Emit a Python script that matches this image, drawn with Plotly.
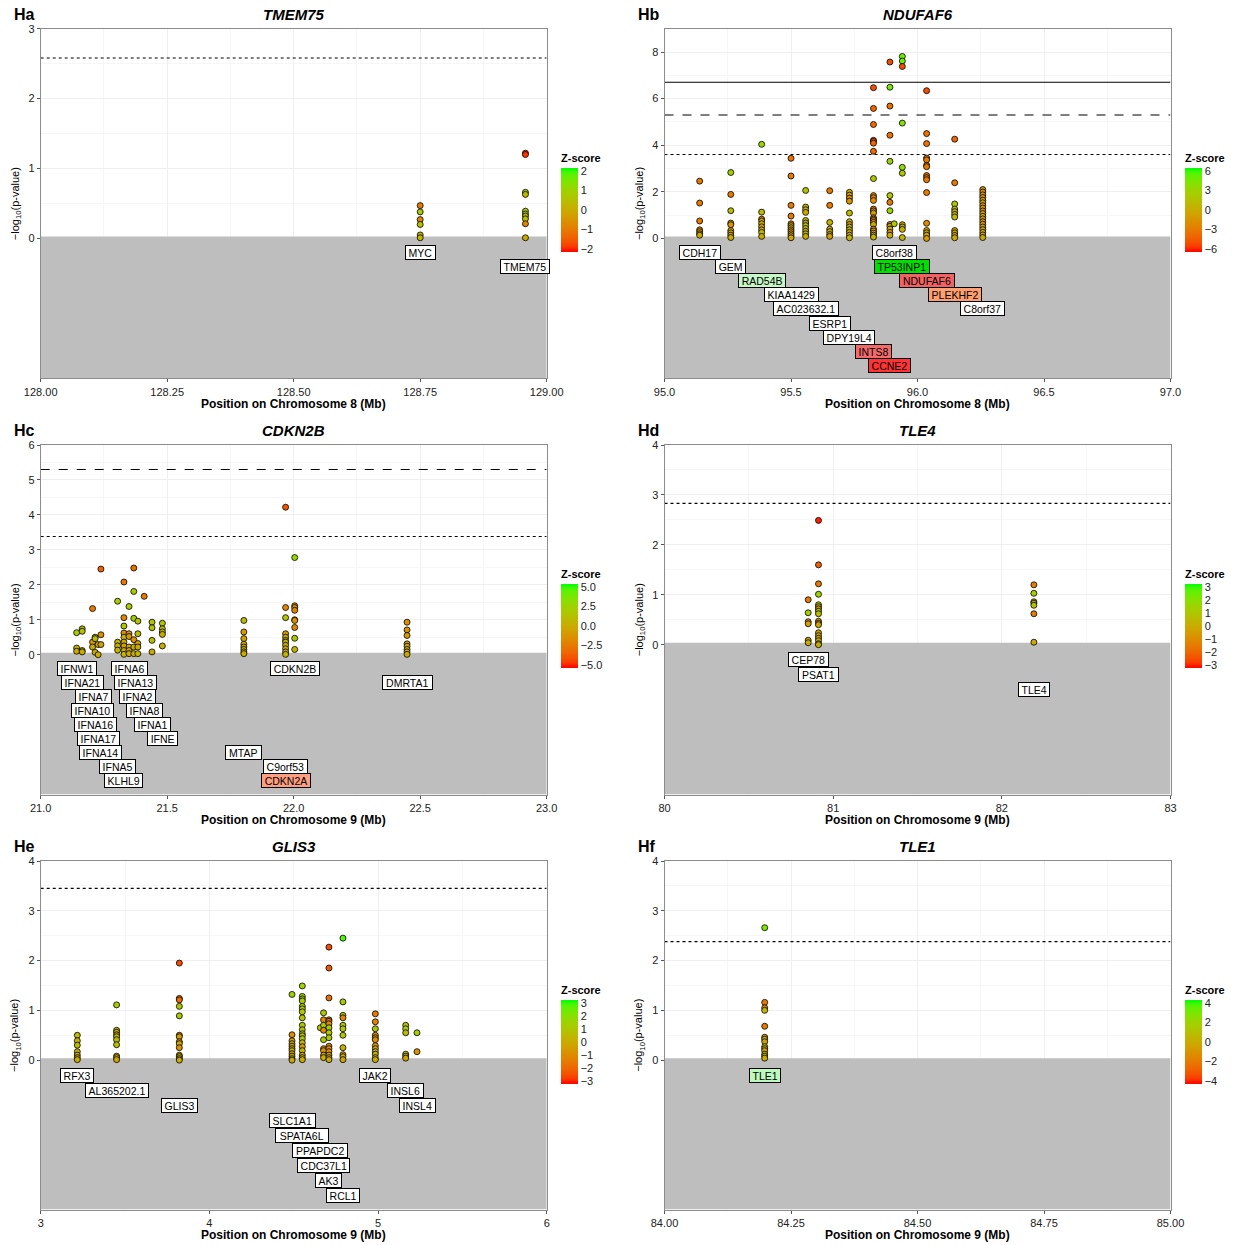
import plotly.graph_objects as go

W, H = 1238, 1245

# ------------------------------------------------------------------ data
# ---- Ha  TMEM75 (chr 8)
ha_col_x = [128.75, 128.958]
ha_col_y = [[0.47, 0.38, 0.27, 0.20, 0.05, 0.01],
            [1.22, 1.20, 0.66, 0.63, 0.39, 0.35, 0.32, 0.28, 0.21, 0.01]]
ha_col_z = [[-1.0, 0.8, -0.8, 0.5, 0.1, 0.2],
            [-2.0, -1.9, 0.8, 0.3, 0.8, 0.6, 0.4, 0.5, -0.8, 0.0]]
ha_genes = ["MYC", "TMEM75"]
ha_gene_x = [128.75, 128.958]
ha_gene_row = [0, 1]
ha_gene_fill = ["white", "white"]
ha_thr = [2.58]

# ---- Hb  NDUFAF6 (chr 8)
hb_col_x = [95.139, 95.262, 95.384, 95.50, 95.558, 95.653, 95.731, 95.826,
            95.891, 95.908, 95.940, 96.036, 96.147, 96.258]
hb_col_y = [
    [2.46, 1.52, 0.75, 0.37, 0.29, 0.20, 0.14],
    [2.83, 1.89, 1.19, 0.66, 0.59, 0.34, 0.24, 0.14, 0.04],
    [4.04, 1.13, 0.83, 0.75, 0.63, 0.50, 0.37, 0.26, 0.09],
    [3.44, 2.68, 1.42, 0.96, 0.63, 0.55, 0.46, 0.37, 0.29, 0.20, 0.12, 0.03],
    [2.06, 1.35, 1.23, 1.12, 0.77, 0.66, 0.55, 0.43, 0.31, 0.20, 0.09],
    [2.05, 1.42, 0.69, 0.40, 0.29, 0.17, 0.09],
    [1.98, 1.86, 1.73, 1.60, 1.09, 0.72, 0.60, 0.49, 0.37, 0.26, 0.14, 0.03],
    [6.47, 5.58, 4.89, 4.21, 4.16, 4.09, 3.74, 2.57, 1.84, 1.75, 1.63, 1.26,
     1.18, 1.09, 0.89, 0.83, 0.77, 0.69, 0.60, 0.40, 0.32, 0.23, 0.14, 0.06],
    [7.57, 6.49, 5.68, 4.43, 3.31, 1.84, 1.55, 1.19, 0.60, 0.52, 0.40, 0.26, 0.14],
    [0.63],
    [7.81, 7.61, 7.38, 4.95, 3.05, 2.80, 0.59, 0.49, 0.39, 0.04],
    [6.34, 4.50, 4.07, 3.45, 3.37, 3.14, 3.08, 2.70, 2.61, 2.52, 1.97, 0.65,
     0.34, 0.24, 0.14, 0.00],
    [4.26, 2.39, 1.48, 1.26, 1.15, 1.03, 0.92, 0.34, 0.24, 0.13, 0.03],
    [2.10, 1.99, 1.87, 1.76, 1.64, 1.53, 1.41, 1.30, 1.18, 1.07, 0.95, 0.84,
     0.72, 0.61, 0.49, 0.38, 0.26, 0.15, 0.04],
]
hb_col_z = [
    [-3, -3, -3, -2, -1.5, -1, 0],
    [2.5, -3, 1.5, 0.5, -1.5, -1, 0, -0.5, 0],
    [3, 1, -2, -1, 0.5, -1, 0, 1, 0],
    [-3.5, -3, -3, -3, -2, -1, 0, -1, -2, 0, -1, -0.5],
    [1.5, 0.5, 1, -0.5, 1, 0, 1.5, 0.5, 0, 1, 0],
    [-3, -3, 0.5, -0.5, 0, 1, -1],
    [0.5, -1, -2, -1.5, 1, 0.5, -1, 0, 1, -0.5, 0, 0.5],
    [-5, -4, -4, -4, -4.5, -4, -4, 2, -2, -2.5, -2, -3, -2, -1, -2, -1, -3,
     -1.5, 0, -2, 0, -1, 0, 0.5],
    [-5, 4.5, -3.5, -3.5, 3, 2, -3, 3, -2, -1, 0, -1.5, 0],
    [2],
    [5, 5, -5, 4, 3.5, 2, -0.5, 1, 0, 0.5],
    [-5, -3.5, -3.5, -3.5, -3, -3.5, -3, -3, -3.5, -3, -3, -2, -1, 0, -0.5, -1],
    [-4, -3, 2, 1, 0, 0.5, 1, -1, 0, -0.5, 0],
    [-2, -2, -1, -2, -1, 0, -2, -1, -2, -1, 0, -1, -2, -1, 0, -1, 0, -1, 0],
]
hb_genes = ["CDH17", "GEM", "RAD54B", "KIAA1429", "AC023632.1", "ESRP1",
            "DPY19L4", "INTS8", "CCNE2", "C8orf38", "TP53INP1", "NDUFAF6",
            "PLEKHF2", "C8orf37"]
hb_gene_x = [95.139, 95.262, 95.384, 95.50, 95.558, 95.653, 95.731, 95.826,
             95.891, 95.908, 95.937, 96.036, 96.147, 96.258]
hb_gene_row = [0, 1, 2, 3, 4, 5, 6, 7, 8, 0, 1, 2, 3, 4]
hb_gene_fill = ["white", "white", "#C6F7C6", "white", "white", "white",
                "white", "#F46A6A", "#FF3333", "white", "#00E000", "#F26262",
                "#FF9E70", "white"]
hb_thr = [6.7, 5.3, 3.6]

# ---- Hc  CDKN2B (chr 9)
hc_col_x = [21.142, 21.164, 21.205, 21.215, 21.227, 21.238, 21.304, 21.329,
            21.349, 21.368, 21.384, 21.409, 21.44, 21.481, 21.803, 21.968,
            22.004, 22.448]
hc_col_y = [
    [0.63, 0.19, 0.10],
    [0.74, 0.67, 0.12, 0.08],
    [1.32, 0.36, 0.22],
    [0.50, 0.46, 0.07],
    [0.29, 0.00],
    [2.45, 0.57, 0.29],
    [1.53, 0.36, 0.25, 0.13],
    [2.08, 1.06, 0.82, 0.62, 0.50, 0.36, 0.25, 0.12, 0.01],
    [1.38, 0.60, 0.52, 0.22, 0.12, 0.03],
    [2.48, 1.81, 1.04, 0.43, 0.22, 0.03],
    [0.96, 0.60, 0.32, 0.22, 0.03],
    [1.67],
    [0.93, 0.77, 0.41, 0.08],
    [0.90, 0.74, 0.65, 0.58, 0.25],
    [0.98, 0.65, 0.46, 0.30, 0.22, 0.15, 0.08, 0.03],
    [4.22, 1.35, 1.06, 0.60, 0.50, 0.41, 0.36, 0.27, 0.17, 0.08, 0.01],
    [2.78, 1.40, 1.35, 1.27, 1.00, 0.98, 0.78, 0.47, 0.15],
    [0.93, 0.71, 0.55, 0.31, 0.24, 0.15, 0.08, 0.01],
]
hc_col_z = [
    [2, 0.5, 0],
    [1.5, 1, 0.5, 0],
    [-2.5, -1, 0],
    [1.5, 1, 0],
    [-0.5, 0],
    [-3.5, -1.5, -0.5],
    [2, 0.5, 0, 0.5],
    [-2.5, -2, 1.5, -1.5, 0.5, 0, -0.5, 0, 0.5],
    [2, -1.5, -1, 0, -0.5, 0],
    [-3, 2, 2, -1.5, 0, 0],
    [1.5, 1, -0.5, 0, 0.5],
    [-2.5],
    [1.5, 1.5, 1, 0],
    [1.5, 1, 0.5, 0, 0],
    [1, -1, -0.5, 0, -0.5, 0, 0.5, 0],
    [-4, -2, 1.5, -1, 0, -0.5, 0.5, 0, -0.5, 0, 0.5],
    [3, -2, -1.5, -2, -2, -1.5, -2, 1.5, 0.5],
    [-1.5, -1.5, -1, -1, 0, -0.5, 0, 0],
]
hc_genes = ["IFNW1", "IFNA21", "IFNA7", "IFNA10", "IFNA16", "IFNA17",
            "IFNA14", "IFNA5", "KLHL9", "IFNA6", "IFNA13", "IFNA2", "IFNA8",
            "IFNA1", "IFNE", "MTAP", "CDKN2B", "C9orf53", "CDKN2A", "DMRTA1"]
hc_gene_x = [21.142, 21.164, 21.208, 21.205, 21.215, 21.227, 21.238, 21.304,
             21.329, 21.349, 21.374, 21.384, 21.409, 21.44, 21.481, 21.803,
             22.004, 21.968, 21.968, 22.448]
hc_gene_row = [0, 1, 2, 3, 4, 5, 6, 7, 8, 0, 1, 2, 3, 4, 5, 6, 0, 7, 8, 1]
hc_gene_fill = ["white"] * 18 + ["#FF9F80", "white"]
hc_thr = [5.3, 3.38]

# ---- Hd  TLE4 (chr 9)
hd_col_x = [80.852, 80.913, 82.19]
hd_col_y = [
    [0.90, 0.64, 0.46, 0.42, 0.09, 0.04],
    [2.49, 1.60, 1.22, 1.01, 0.80, 0.76, 0.72, 0.67, 0.62, 0.47, 0.43, 0.40,
     0.24, 0.18, 0.13, 0.08, 0.02, 0.00],
    [1.20, 1.03, 0.86, 0.83, 0.79, 0.62, 0.05],
]
hd_col_z = [
    [-1.5, 1.2, -0.8, -0.5, -0.3, 0],
    [-3, -2.2, -1.5, 1.5, 1, 0.5, -1, 1, 0.5, -0.8, -0.5, -0.3, -0.5, 0,
     -0.3, 0, 0.2, 0],
    [-1.5, 1.2, -0.5, 0.5, 1, -1.5, 0],
]
hd_genes = ["CEP78", "PSAT1", "TLE4"]
hd_gene_x = [80.852, 80.913, 82.19]
hd_gene_row = [0, 1, 2]
hd_gene_fill = ["white", "white", "white"]
hd_thr = [2.83]

# ---- He  GLIS3 (chr 9)
he_col_x = [3.217, 3.45, 3.822, 4.49, 4.551, 4.658, 4.677, 4.709, 4.792,
            4.984, 5.164, 5.231]
he_col_y = [
    [0.50, 0.39, 0.30, 0.17, 0.10, 0.05, 0.01],
    [1.11, 0.60, 0.56, 0.51, 0.47, 0.41, 0.31, 0.08, 0.05, 0.01],
    [1.95, 1.24, 1.21, 1.08, 0.89, 0.50, 0.47, 0.37, 0.33, 0.25, 0.10, 0.07,
     0.03, 0.00],
    [1.32, 0.51, 0.39, 0.33, 0.28, 0.23, 0.19, 0.13, 0.08, 0.03, 0.00],
    [1.49, 1.28, 1.23, 1.19, 1.08, 1.03, 0.97, 0.85, 0.70, 0.61, 0.53, 0.49,
     0.43, 0.35, 0.27, 0.19, 0.10, 0.05, 0.01],
    [0.65],
    [0.95, 0.81, 0.70, 0.60, 0.41, 0.23, 0.19, 0.10, 0.05],
    [2.27, 1.85, 1.25, 0.81, 0.78, 0.73, 0.65, 0.55, 0.45, 0.28, 0.23, 0.17,
     0.10, 0.05, 0.01],
    [2.45, 1.17, 0.90, 0.85, 0.70, 0.63, 0.50, 0.25, 0.11, 0.07, 0.01],
    [0.93, 0.77, 0.63, 0.50, 0.45, 0.41, 0.29, 0.23, 0.17, 0.12, 0.05, 0.01],
    [0.70, 0.63, 0.55, 0.12, 0.08, 0.04],
    [0.55, 0.17],
]
he_col_z = [
    [0.5, 0.3, 0.5, 0, 0.2, -0.2, 0],
    [1.2, 0.5, 0.3, -0.8, 0.5, 0.5, 0.6, 0, 0.3, -0.2],
    [-2.5, -1.5, -1.8, 1, 1, -1, -0.5, -1, 0, -0.8, 0, 0.2, -0.3, 0],
    [1.5, -1, -0.5, 0, -0.3, 0, 0.2, -0.5, 0, 0.3, -0.2],
    [1.5, 1.3, 1.5, 1.2, 1, 1.2, 1, 0.8, 1, 0.8, 1, 0.5, 1, 0.5, -0.5, 0.5,
     -0.3, 0.2, 0],
    [1.2],
    [1, -1.2, 1, -1, 1, -1, -0.8, -0.5, 0],
    [-2.5, -2.3, -1.8, -1.2, -1.5, -1, 1.2, 1, 1, -1, -0.8, -1, 0, -0.3, 0],
    [2.8, 1.2, 1, -1.2, 1, 1, 1, 0.3, -0.5, 0, -0.2],
    [-1.5, -1.2, 1, -1, -0.8, -1, -0.5, -0.3, 0.5, 0.3, 0, 0],
    [0.8, 1, 0.5, 0.3, 0, -0.2],
    [1.2, -0.8],
]
he_genes = ["RFX3", "AL365202.1", "GLIS3", "SLC1A1", "SPATA6L", "PPAPDC2",
            "CDC37L1", "AK3", "RCL1", "JAK2", "INSL6", "INSL4"]
he_gene_x = [3.217, 3.45, 3.822, 4.49, 4.549, 4.658, 4.677, 4.709, 4.792,
             4.984, 5.164, 5.231]
he_gene_row = [0, 1, 2, 3, 4, 5, 6, 7, 8, 0, 1, 2]
he_gene_fill = ["white"] * 12
he_thr = [3.45]

# ---- Hf  TLE1 (chr 9)
hf_col_x = [84.198]
hf_col_y = [[2.66, 1.16, 1.05, 1.00, 0.68, 0.46, 0.42, 0.37, 0.27, 0.23,
             0.19, 0.12, 0.08, 0.04]]
hf_col_z = [[3, -2, -1.5, 0.5, -2, -1, 0.5, -0.5, 0.5, 0, -0.5, 0, 0.5, 0]]
hf_genes = ["TLE1"]
hf_gene_x = [84.198]
hf_gene_row = [0]
hf_gene_fill = ["#BDF9BD"]
hf_thr = [2.38]

# ------------------------------------------------------------ colours
def _lin(c):
    c = c / 255.0
    return c / 12.92 if c <= 0.04045 else ((c + 0.055) / 1.055) ** 2.4


def _gam(c):
    c = max(0.0, min(1.0, c))
    v = 12.92 * c if c <= 0.0031308 else 1.055 * c ** (1 / 2.4) - 0.055
    return int(round(max(0.0, min(1.0, v)) * 255))


def rgb2lab(r, g, b):
    R, G, B = _lin(r), _lin(g), _lin(b)
    X = (0.4124 * R + 0.3576 * G + 0.1805 * B) / 0.95047
    Y = 0.2126 * R + 0.7152 * G + 0.0722 * B
    Z = (0.0193 * R + 0.1192 * G + 0.9505 * B) / 1.08883
    f = lambda t: t ** (1 / 3) if t > 0.008856 else 7.787 * t + 16 / 116
    fx, fy, fz = f(X), f(Y), f(Z)
    return 116 * fy - 16, 500 * (fx - fy), 200 * (fy - fz)


def lab2rgb(L, a, b):
    fy = (L + 16) / 116
    fx = fy + a / 500
    fz = fy - b / 200
    finv = lambda t: t ** 3 if t ** 3 > 0.008856 else (t - 16 / 116) / 7.787
    X = finv(fx) * 0.95047
    Y = finv(fy)
    Z = finv(fz) * 1.08883
    R = 3.2406 * X - 1.5372 * Y - 0.4986 * Z
    G = -0.9689 * X + 1.8758 * Y + 0.0415 * Z
    B = 0.0557 * X - 0.2040 * Y + 1.0570 * Z
    return "rgb(%d,%d,%d)" % (_gam(R), _gam(G), _gam(B))


lo = rgb2lab(255, 0, 0)
hi = rgb2lab(0, 255, 0)
NST = 16
colorscale = []
for i in range(NST + 1):
    t = i / NST
    colorscale.append([t, lab2rgb(*[lo[k] + (hi[k] - lo[k]) * t for k in range(3)])])

# approximate Arial/Liberation Sans advance widths (per em) for label boxes
_CW = {c: 0.667 for c in "ABEKPSVXY"}
_CW.update({c: 0.722 for c in "CDHNRU"})
_CW.update({c: 0.778 for c in "GOQ"})
_CW.update({"F": 0.611, "T": 0.611, "Z": 0.611, "I": 0.278, "J": 0.5,
            "L": 0.556, "M": 0.833, "W": 0.944, ".": 0.278,
            "f": 0.278, "r": 0.333, "o": 0.556})
_CW.update({d: 0.556 for d in "0123456789"})


def text_w(s, fs):
    return sum(_CW.get(ch, 0.6) for ch in s) * fs


# ------------------------------------------------------------ layout geometry
FONT = "Liberation Sans, Arial, Helvetica, sans-serif"
LFS = 10.5
col_px = [(40.7, 546.7), (664.5, 1170.5)]
row_px = [(28.7, 378.3), (445.0, 794.5), (861.0, 1209.5)]
cbar_x_px = [561, 1185]
cbar_bottom_px = [252, 668, 1084]

panels = [
    dict(tag="Ha", gene="TMEM75", chrom=8, r=0, c=0, xr=[128, 129], yr=[-2, 3],
         yt=[0, 1, 2, 3], ymt=[0.5, 1.5, 2.5],
         xt=[128, 128.25, 128.5, 128.75, 129],
         xmt=[128.125, 128.375, 128.625, 128.875], xfmt=".2f",
         cm=2, zt=[-2, -1, 0, 1, 2], zfmt="d",
         cx=ha_col_x, cy=ha_col_y, cz=ha_col_z,
         g=ha_genes, gx=ha_gene_x, grow=ha_gene_row, gfill=ha_gene_fill,
         thr=ha_thr, dash=["dot"], lab_px=14),
    dict(tag="Hb", gene="NDUFAF6", chrom=8, r=0, c=1, xr=[95, 97], yr=[-6, 9],
         yt=[0, 2, 4, 6, 8], ymt=[1, 3, 5, 7],
         xt=[95, 95.5, 96, 96.5, 97], xmt=[95.25, 95.75, 96.25, 96.75],
         xfmt=".1f", cm=6, zt=[-6, -3, 0, 3, 6], zfmt="d",
         cx=hb_col_x, cy=hb_col_y, cz=hb_col_z,
         g=hb_genes, gx=hb_gene_x, grow=hb_gene_row, gfill=hb_gene_fill,
         thr=hb_thr, dash=["solid", "dash", "dot"], lab_px=14.1),
    dict(tag="Hc", gene="CDKN2B", chrom=9, r=1, c=0, xr=[21, 23], yr=[-4, 6],
         yt=[0, 1, 2, 3, 4, 5, 6], ymt=[0.5, 1.5, 2.5, 3.5, 4.5, 5.5],
         xt=[21, 21.5, 22, 22.5, 23], xmt=[21.25, 21.75, 22.25, 22.75],
         xfmt=".1f", cm=5, zt=[-5, -2.5, 0, 2.5, 5], zfmt=".1f",
         cx=hc_col_x, cy=hc_col_y, cz=hc_col_z,
         g=hc_genes, gx=hc_gene_x, grow=hc_gene_row, gfill=hc_gene_fill,
         thr=hc_thr, dash=["dash", "dot"], lab_px=14),
    dict(tag="Hd", gene="TLE4", chrom=9, r=1, c=1, xr=[80, 83], yr=[-3, 4],
         yt=[0, 1, 2, 3, 4], ymt=[0.5, 1.5, 2.5, 3.5],
         xt=[80, 81, 82, 83], xmt=[80.5, 81.5, 82.5], xfmt="d",
         cm=3, zt=[-3, -2, -1, 0, 1, 2, 3], zfmt="d",
         cx=hd_col_x, cy=hd_col_y, cz=hd_col_z,
         g=hd_genes, gx=hd_gene_x, grow=hd_gene_row, gfill=hd_gene_fill,
         thr=hd_thr, dash=["dot"], lab_px=15),
    dict(tag="He", gene="GLIS3", chrom=9, r=2, c=0, xr=[3, 6], yr=[-3, 4],
         yt=[0, 1, 2, 3, 4], ymt=[0.5, 1.5, 2.5, 3.5],
         xt=[3, 4, 5, 6], xmt=[3.5, 4.5, 5.5], xfmt="d",
         cm=3, zt=[-3, -2, -1, 0, 1, 2, 3], zfmt="d",
         cx=he_col_x, cy=he_col_y, cz=he_col_z,
         g=he_genes, gx=he_gene_x, grow=he_gene_row, gfill=he_gene_fill,
         thr=he_thr, dash=["dot"], lab_px=15),
    dict(tag="Hf", gene="TLE1", chrom=9, r=2, c=1, xr=[84, 85], yr=[-3, 4],
         yt=[0, 1, 2, 3, 4], ymt=[0.5, 1.5, 2.5, 3.5],
         xt=[84, 84.25, 84.5, 84.75, 85],
         xmt=[84.125, 84.375, 84.625, 84.875], xfmt=".2f",
         cm=4, zt=[-4, -2, 0, 2, 4], zfmt="d",
         cx=hf_col_x, cy=hf_col_y, cz=hf_col_z,
         g=hf_genes, gx=hf_gene_x, grow=hf_gene_row, gfill=hf_gene_fill,
         thr=hf_thr, dash=["dot"], lab_px=15.7),
]

fig = go.Figure()
shapes, annots = [], []
layout = {}
GRID = "#EEEEF4"
MGRID = "#F6F6FA"

for i, p in enumerate(panels):
    n = i + 1
    xa = "xaxis" if n == 1 else "xaxis%d" % n
    ya = "yaxis" if n == 1 else "yaxis%d" % n
    xref = "x" if n == 1 else "x%d" % n
    yref = "y" if n == 1 else "y%d" % n
    x0p, x1p = col_px[p["c"]]
    y0p, y1p = row_px[p["r"]]
    ppu = (y1p - y0p) / (p["yr"][1] - p["yr"][0])

    def fmt(v, f):
        return ("%d" % round(v)) if f == "d" else format(v, f)

    layout[xa] = dict(
        domain=[x0p / W, x1p / W], range=p["xr"], anchor=yref,
        automargin=False,
        tickmode="array", tickvals=p["xt"],
        ticktext=[fmt(v, p["xfmt"]) for v in p["xt"]],
        ticks="outside", ticklen=3, tickcolor="#555", tickwidth=1,
        tickfont=dict(size=11, color="#222", family=FONT),
        showgrid=True, gridcolor=GRID, gridwidth=1,
        minor=dict(tickvals=p["xmt"], showgrid=True, gridcolor=MGRID, ticks=""),
        showline=True, linecolor="#8C8C8C", linewidth=1, mirror=True,
        zeroline=False, fixedrange=True)
    layout[ya] = dict(
        domain=[1 - y1p / H, 1 - y0p / H], range=p["yr"], anchor=xref,
        automargin=False,
        tickmode="array", tickvals=p["yt"],
        ticktext=[str(v) for v in p["yt"]],
        ticks="outside", ticklen=3, tickcolor="#555", tickwidth=1,
        tickfont=dict(size=11, color="#222", family=FONT),
        showgrid=True, gridcolor=GRID, gridwidth=1,
        minor=dict(tickvals=p["ymt"], showgrid=True, gridcolor=MGRID, ticks=""),
        showline=True, linecolor="#8C8C8C", linewidth=1, mirror=True,
        zeroline=False, fixedrange=True)

    # grey gene band below zero
    shapes.append(dict(type="rect", xref=xref, yref=yref,
                       x0=p["xr"][0], x1=p["xr"][1], y0=p["yr"][0], y1=2 / ppu,
                       fillcolor="#BEBEBE", line=dict(width=0), layer="between"))
    # significance thresholds
    for tv, ds in zip(p["thr"], p["dash"]):
        shapes.append(dict(type="line", xref=xref, yref=yref,
                           x0=p["xr"][0], x1=p["xr"][1], y0=tv, y1=tv,
                           line=dict(color="black", width=1.1, dash=ds),
                           layer="between"))

    # points
    xs, ys, zs = [], [], []
    for cx, cy, cz in zip(p["cx"], p["cy"], p["cz"]):
        for yy, zz in zip(cy, cz):
            xs.append(cx)
            ys.append(yy)
            zs.append(zz)
    cm = p["cm"] * 1.07
    fig.add_trace(go.Scatter(
        x=xs, y=ys, mode="markers", xaxis=xref, yaxis=yref,
        showlegend=False, hoverinfo="skip",
        marker=dict(size=6, color=zs, colorscale=colorscale, cmin=-cm, cmax=cm,
                    line=dict(color="black", width=0.8), showscale=True,
                    colorbar=dict(
                        x=cbar_x_px[p["c"]] / W, xanchor="left", xpad=0,
                        y=1 - cbar_bottom_px[p["r"]] / H, yanchor="bottom",
                        ypad=0, len=101, lenmode="pixels", thickness=17,
                        thicknessmode="pixels", outlinewidth=0,
                        tickmode="array", tickvals=p["zt"],
                        ticktext=[fmt(v, p["zfmt"]).replace("-", "\u2212")
                                  for v in p["zt"]],
                        ticks="", tickfont=dict(size=11, color="#222", family=FONT),
                        title=dict(text="<b>Z-score</b>", side="top",
                                   font=dict(size=11, color="black", family=FONT))))))

    # gene labels in the grey band
    for gname, gx, gr, gf in zip(p["g"], p["gx"], p["grow"], p["gfill"]):
        annots.append(dict(
            xref=xref, yref=yref, x=gx, y=-(gr + 1) * p["lab_px"] / ppu,
            text=gname, showarrow=False, xanchor="center", yanchor="middle",
            width=text_w(gname, LFS) + 3, height=11,
            font=dict(size=LFS, color="black", family=FONT),
            bgcolor=gf, bordercolor="black", borderwidth=1, borderpad=1.2))

    # panel tag and gene title
    annots.append(dict(xref="paper", yref="paper", x=(x0p - 29) / W,
                       y=1 - (y0p - 14.5) / H, text="<b>%s</b>" % p["tag"],
                       showarrow=False, xanchor="left", yanchor="middle",
                       font=dict(size=16, color="black", family=FONT)))
    annots.append(dict(xref="paper", yref="paper", x=(x0p + x1p) / 2 / W,
                       y=1 - (y0p - 14.5) / H,
                       text="<b><i>%s</i></b>" % p["gene"],
                       showarrow=False, xanchor="center", yanchor="middle",
                       font=dict(size=15, color="black", family=FONT)))
    # axis titles
    annots.append(dict(xref="paper", yref="paper", x=(x0p + x1p) / 2 / W,
                       y=1 - (y1p + 25.5) / H,
                       text="<b>Position on Chromosome %d (Mb)</b>" % p["chrom"],
                       showarrow=False, xanchor="center", yanchor="middle",
                       font=dict(size=12, color="black", family=FONT)))
    annots.append(dict(xref="paper", yref="paper", x=(x0p - 25) / W,
                       y=1 - ((y0p + y1p) / 2) / H,
                       text="\u2212log<sub>10</sub>(p-value)", textangle=-90,
                       showarrow=False, xanchor="center", yanchor="middle",
                       font=dict(size=11, color="black", family=FONT)))

fig.update_layout(
    width=W, height=H, autosize=False,
    margin=dict(l=0, r=0, t=0, b=0, autoexpand=False),
    paper_bgcolor="white", plot_bgcolor="white",
    font=dict(family=FONT, color="black"),
    shapes=shapes, annotations=annots, **layout)

fig.write_html("out.html")
